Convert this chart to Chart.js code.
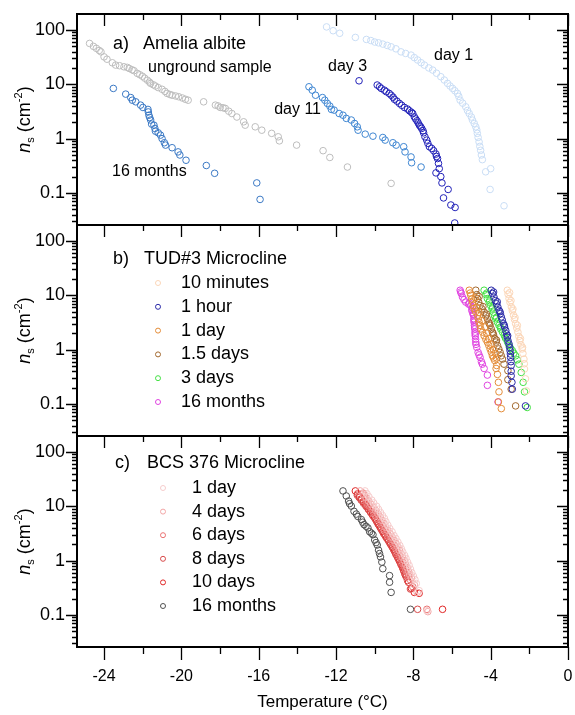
<!DOCTYPE html>
<html><head><meta charset="utf-8">
<script src="https://cdn.jsdelivr.net/npm/chart.js@4.4.1/dist/chart.umd.min.js"></script>
<style>html,body{margin:0;padding:0;background:#fff}</style>
</head><body>
<canvas id="c" width="575" height="715"></canvas>
<script>
// ---------- tick labels ----------
const xTickValues = [-24, -20, -16, -12, -8, -4, 0];
const xMinorTicks = [-22, -18, -14, -10, -6, -2];
const yTickValues = [0.1, 1, 10, 100];

// ---------- panel a: Amelia albite  [T (°C), ns (cm^-2)] ----------
const ameliaUnground = [[-24.75,56.6],[-24.55,50],[-24.4,46],[-24.25,42],[-24.16,39.6],[-24.0,32],[-23.85,29],[-23.57,24.9],[-23.4,22.6],[-23.2,22],[-22.97,21],[-22.8,20.5],[-22.7,19.6],[-22.55,18.5],[-22.45,17.8],[-22.28,15.9],[-22.15,15],[-22.02,14.1],[-21.9,13],[-21.76,11.9],[-21.65,11],[-21.59,10.4],[-21.45,9.8],[-21.34,9.3],[-21.2,8.7],[-21.0,8.1],[-20.85,7.4],[-20.74,6.8],[-20.6,6.5],[-20.48,6.3],[-20.3,6.1],[-20.14,5.9],[-19.95,5.6],[-19.79,5.3],[-19.65,5.1],[-18.85,4.76],[-18.24,4.14],[-18.1,4.0],[-17.99,3.75],[-17.85,3.7],[-17.73,3.6],[-17.55,3.2],[-17.39,2.9],[-17.13,2.5],[-16.78,2.04],[-16.7,1.77],[-16.18,1.65],[-15.84,1.43],[-15.33,1.25],[-14.99,1.08],[-14.93,0.91],[-14.04,0.76],[-12.67,0.6],[-12.32,0.45],[-11.41,0.30],[-9.15,0.15]];
const ameliaMonths16 = [[-23.52,8.4],[-22.88,6.6],[-22.62,5.7],[-22.54,5.1],[-22.36,4.76],[-22.11,4.14],[-21.99,3.75],[-21.73,3.45],[-21.71,3.1],[-21.68,2.7],[-21.64,2.45],[-21.59,2.2],[-21.54,1.85],[-21.42,1.77],[-21.37,1.54],[-21.34,1.37],[-21.2,1.28],[-21.08,1.16],[-21.0,1.0],[-20.88,0.84],[-20.82,0.76],[-20.48,0.68],[-20.17,0.57],[-20.08,0.5],[-19.76,0.40],[-18.71,0.32],[-18.28,0.23],[-16.1,0.153],[-15.93,0.076]];
const ameliaDay11 = [[-13.4,9.0],[-13.23,7.8],[-13.06,6.3],[-12.7,5.7],[-12.58,5.1],[-12.45,4.45],[-12.32,3.97],[-12.24,3.45],[-12.1,3.35],[-11.84,2.9],[-11.64,2.7],[-11.47,2.36],[-11.21,2.2],[-11.04,1.9],[-10.9,1.65],[-10.86,1.43],[-10.49,1.21],[-10.09,1.11],[-9.58,1.05],[-9.46,0.94],[-9.06,0.84],[-8.89,0.76],[-8.5,0.71],[-8.43,0.57],[-8.12,0.46],[-8.09,0.36],[-7.6,0.30]];
const ameliaDay3 = [[-10.81,11.6],[-9.87,9.7],[-9.75,9.0],[-9.66,8.4],[-9.5,7.8],[-9.4,7.3],[-9.25,6.8],[-9.15,6.3],[-9.05,5.8],[-8.98,5.3],[-8.85,4.9],[-8.72,4.45],[-8.6,4.1],[-8.46,3.75],[-8.3,3.5],[-8.2,3.25],[-8.1,3.05],[-8.03,2.9],[-7.95,2.52],[-7.88,2.3],[-7.81,2.13],[-7.75,1.95],[-7.69,1.77],[-7.62,1.65],[-7.57,1.54],[-7.5,1.4],[-7.47,1.28],[-7.4,1.08],[-7.31,0.94],[-7.25,0.82],[-7.17,0.71],[-7.05,0.66],[-6.95,0.6],[-6.83,0.52],[-6.8,0.47],[-6.75,0.43],[-6.7,0.35],[-6.66,0.28],[-6.83,0.234],[-6.58,0.2],[-6.52,0.153],[-6.2,0.116],[-6.44,0.081],[-6.06,0.06],[-5.84,0.054],[-5.86,0.028]];
const ameliaDay1 = [[-12.49,114],[-12.15,97],[-11.81,87],[-11.0,73],[-10.43,67],[-10.2,64],[-10.0,60],[-9.8,58],[-9.58,55],[-9.35,52],[-9.15,49],[-8.9,45],[-8.64,39.6],[-8.4,37],[-8.12,34.5],[-7.95,31],[-7.78,28],[-7.6,25],[-7.43,22.6],[-7.2,20],[-7.0,18.3],[-6.8,16],[-6.58,13.8],[-6.4,12],[-6.23,10.4],[-6.1,9.3],[-5.97,8.4],[-5.85,7.6],[-5.72,6.8],[-5.65,6.0],[-5.58,5.1],[-5.45,4.5],[-5.29,3.85],[-5.2,3.3],[-5.11,2.9],[-5.0,2.5],[-4.94,2.19],[-4.85,1.9],[-4.77,1.65],[-4.72,1.45],[-4.69,1.25],[-4.65,1.05],[-4.6,0.87],[-4.56,0.72],[-4.52,0.61],[-4.48,0.5],[-4.43,0.41],[-4.0,0.28],[-4.26,0.245],[-4.03,0.116],[-3.31,0.058]];

// ---------- panel b: TUD#3 Microcline ----------
const tudMin10 = [[-3.14,12.4],[-3.1,10.5],[-3.05,8.7],[-3.0,7.4],[-2.93,6.1],[-2.88,5.2],[-2.82,4.3],[-2.77,3.6],[-2.71,3.0],[-2.65,2.5],[-2.59,2.1],[-2.54,1.75],[-2.49,1.47],[-2.43,1.22],[-2.37,1.03],[-2.33,0.85],[-2.28,0.67],[-2.26,0.55],[-2.25,0.44],[-2.2,0.29],[-2.15,0.174],[-3.02,11.2],[-2.95,8.0],[-2.85,5.6],[-2.74,3.9],[-2.62,2.8],[-2.46,1.6],[-2.35,1.1]];
const tudHour1 = [[-3.97,12.4],[-3.9,10.8],[-3.83,9.3],[-3.76,8.0],[-3.7,7.0],[-3.63,6.1],[-3.57,5.3],[-3.5,4.6],[-3.45,4.0],[-3.4,3.5],[-3.34,3.0],[-3.28,2.6],[-3.22,2.25],[-3.18,1.95],[-3.14,1.69],[-3.1,1.45],[-3.05,1.27],[-3.02,1.1],[-3.0,0.96],[-2.98,0.83],[-2.97,0.72],[-2.95,0.6],[-2.94,0.51],[-2.94,0.4],[-2.94,0.33],[-2.9,0.25],[-2.88,0.187],[-2.2,0.092],[-3.85,11.5],[-3.66,7.6],[-3.52,5.0],[-3.3,2.8],[-3.12,1.8]];
const tudDay1 = [[-5.11,12.4],[-5.06,11],[-5.03,10],[-4.98,8.6],[-4.94,7.5],[-4.9,6.5],[-4.86,5.7],[-4.78,5.0],[-4.68,4.3],[-4.64,3.7],[-4.6,3.2],[-4.55,2.8],[-4.51,2.4],[-4.42,2.1],[-4.34,1.8],[-4.25,1.55],[-4.17,1.37],[-4.1,1.2],[-4.03,1.03],[-3.97,0.9],[-3.91,0.77],[-3.85,0.7],[-3.79,0.63],[-3.69,0.51],[-3.65,0.35],[-3.6,0.25],[-3.57,0.167],[-3.6,0.109],[-3.45,0.082],[-4.8,9.0],[-4.72,6.0],[-4.6,4.8],[-4.45,3.4],[-4.3,2.6],[-4.2,2.0],[-4.1,1.6],[-3.98,1.25],[-3.85,1.0],[-3.75,0.85],[-3.7,0.7],[-3.72,0.45]];
const tudDays15 = [[-4.77,12.4],[-4.72,10.3],[-4.68,8.7],[-4.62,7.5],[-4.55,6.5],[-4.45,5.6],[-4.34,4.9],[-4.25,4.2],[-4.17,3.7],[-4.1,3.2],[-4.03,2.8],[-3.97,2.4],[-3.91,2.1],[-3.85,1.85],[-3.79,1.6],[-3.72,1.38],[-3.65,1.19],[-3.58,1.03],[-3.51,0.89],[-3.45,0.77],[-3.39,0.67],[-3.31,0.54],[-3.11,0.41],[-3.11,0.28],[-2.94,0.187],[-2.71,0.092],[-4.6,9.5],[-4.4,6.2],[-4.22,4.5],[-4.06,3.0],[-3.88,2.0],[-3.7,1.5]];
const tudDays3 = [[-4.34,12.4],[-4.25,10.3],[-4.17,8.7],[-4.08,7.5],[-4.0,6.5],[-3.93,5.6],[-3.86,4.9],[-3.8,4.2],[-3.74,3.7],[-3.65,3.2],[-3.57,2.8],[-3.48,2.4],[-3.39,2.1],[-3.3,1.85],[-3.22,1.6],[-3.13,1.38],[-3.05,1.19],[-2.97,1.06],[-2.88,0.96],[-2.8,0.86],[-2.71,0.77],[-2.62,0.65],[-2.54,0.54],[-2.42,0.38],[-2.32,0.25],[-2.25,0.167],[-2.11,0.086],[-4.2,11.0],[-4.05,8.0],[-3.9,5.9],[-3.7,3.9],[-3.5,2.6],[-3.25,1.7]];
const tudMonths16 = [[-5.58,12.4],[-5.52,10.8],[-5.46,9.3],[-5.38,8.3],[-5.29,7.5],[-5.15,6.9],[-5.03,6.5],[-4.98,5.3],[-4.93,4.8],[-4.89,4.3],[-4.87,3.7],[-4.86,3.2],[-4.84,2.8],[-4.82,2.4],[-4.81,2.1],[-4.8,1.8],[-4.78,1.55],[-4.77,1.37],[-4.72,1.1],[-4.65,0.89],[-4.55,0.72],[-4.43,0.54],[-4.34,0.45],[-4.17,0.34],[-4.17,0.22],[-3.62,0.109],[-5.55,11.5],[-5.1,7.2],[-4.95,5.8],[-4.9,4.5],[-4.86,3.45],[-4.83,2.6],[-4.8,1.95],[-4.76,1.25],[-4.6,0.8],[-4.48,0.6]];

// ---------- panel c: BCS 376 Microcline ----------
const bcsDay1 = [[-10.5,19.2],[-10.4,17],[-10.3,15],[-10.15,13],[-10.05,11.5],[-9.9,10],[-9.8,8.8],[-9.7,7.7],[-9.6,6.8],[-9.5,6.0],[-9.42,5.2],[-9.32,4.5],[-9.22,3.9],[-9.1,3.4],[-9.0,2.9],[-8.9,2.55],[-8.8,2.2],[-8.7,1.9],[-8.62,1.65],[-8.55,1.45],[-8.45,1.25],[-8.38,1.1],[-8.3,0.94],[-8.22,0.82],[-8.15,0.7],[-8.08,0.6],[-8.0,0.52],[-7.92,0.45],[-7.85,0.38],[-7.7,0.28],[-7.3,0.12]];
const bcsDays4 = [[-10.75,19.2],[-10.6,16.5],[-10.45,14.6],[-10.32,12.6],[-10.2,11],[-10.08,9.6],[-9.95,8.4],[-9.83,7.3],[-9.72,6.4],[-9.62,5.5],[-9.52,4.8],[-9.42,4.1],[-9.32,3.6],[-9.2,3.1],[-9.1,2.7],[-9.0,2.35],[-8.9,2.05],[-8.8,1.78],[-8.72,1.55],[-8.63,1.33],[-8.55,1.15],[-8.47,1.0],[-8.4,0.86],[-8.32,0.74],[-8.25,0.64],[-8.18,0.55],[-8.1,0.48],[-7.95,0.36],[-7.8,0.26],[-7.25,0.115]];
const bcsDays6 = [[-10.6,17.5],[-10.55,15.5],[-10.5,13.5],[-10.4,11.8],[-10.3,10.3],[-10.17,9.0],[-10.05,7.8],[-9.93,6.8],[-9.82,5.9],[-9.7,5.1],[-9.6,4.4],[-9.5,3.8],[-9.4,3.3],[-9.28,2.9],[-9.18,2.5],[-9.08,2.2],[-8.98,1.9],[-8.88,1.65],[-8.8,1.42],[-8.7,1.22],[-8.62,1.06],[-8.54,0.92],[-8.46,0.8],[-8.39,0.7],[-8.32,0.6],[-8.25,0.52],[-8.18,0.45],[-8.03,0.33],[-7.3,0.127]];
const bcsDays8 = [[-10.9,16],[-10.8,14.5],[-10.7,13],[-10.58,11.4],[-10.45,10],[-10.32,8.7],[-10.2,7.6],[-10.08,6.6],[-9.95,5.7],[-9.85,4.9],[-9.75,4.3],[-9.65,3.7],[-9.55,3.2],[-9.44,2.8],[-9.32,2.45],[-9.22,2.12],[-9.12,1.85],[-9.02,1.6],[-8.93,1.4],[-8.84,1.2],[-8.75,1.05],[-8.66,0.9],[-8.58,0.78],[-8.51,0.67],[-8.44,0.58],[-8.37,0.5],[-8.3,0.43],[-8.15,0.3],[-7.78,0.127]];
const bcsDays10 = [[-11.0,19.2],[-10.88,17],[-10.78,15],[-10.68,13.4],[-10.58,12],[-10.46,10.5],[-10.35,9.2],[-10.23,8.0],[-10.12,7.0],[-10.0,6.1],[-9.9,5.3],[-9.8,4.6],[-9.7,4.0],[-9.58,3.45],[-9.48,3.0],[-9.38,2.6],[-9.28,2.3],[-9.18,2.0],[-9.08,1.75],[-8.98,1.5],[-8.9,1.3],[-8.8,1.12],[-8.72,0.98],[-8.64,0.85],[-8.56,0.74],[-8.49,0.64],[-8.42,0.55],[-8.25,0.4],[-8.1,0.31],[-7.95,0.26],[-7.7,0.25],[-6.49,0.127]];
const bcsMonths16 = [[-11.64,19.2],[-11.47,15.5],[-11.35,12.5],[-11.3,11.2],[-11.21,10.1],[-11.07,8.1],[-10.95,7.2],[-10.87,6.5],[-10.69,5.7],[-10.62,5.1],[-10.55,4.6],[-10.45,4.3],[-10.35,4.0],[-10.26,3.4],[-10.17,3.2],[-10.09,3.0],[-10.0,2.4],[-9.93,2.15],[-9.87,1.94],[-9.8,1.56],[-9.75,1.35],[-9.7,1.17],[-9.63,0.94],[-9.58,0.71],[-9.23,0.53],[-9.23,0.40],[-9.15,0.26],[-8.15,0.127]];

// ---------- series definitions ----------
const panelA = [
  {label:'unground sample', data:ameliaUnground, color:'#bdbdbd'},
  {label:'16 months', data:ameliaMonths16, color:'#3a78c4'},
  {label:'day 11', data:ameliaDay11, color:'#3f86d2'},
  {label:'day 3', data:ameliaDay3, color:'#2222b8'},
  {label:'day 1', data:ameliaDay1, color:'#c9ddf5'}
];
const panelB = [
  {label:'10 minutes', data:tudMin10, color:'#fbd6b8'},
  {label:'1 hour', data:tudHour1, color:'#2a2aa8'},
  {label:'1 day', data:tudDay1, color:'#e48c38'},
  {label:'1.5 days', data:tudDays15, color:'#a2682e'},
  {label:'3 days', data:tudDays3, color:'#44e044'},
  {label:'16 months', data:tudMonths16, color:'#e044e0'}
];
const panelC = [
  {label:'1 day', data:bcsDay1, color:'#f6cccc'},
  {label:'4 days', data:bcsDays4, color:'#f2a6a6'},
  {label:'6 days', data:bcsDays6, color:'#ea7272'},
  {label:'8 days', data:bcsDays8, color:'#d84a4a'},
  {label:'10 days', data:bcsDays10, color:'#e02626'},
  {label:'16 months', data:bcsMonths16, color:'#505050'}
];

const FONT = "'Liberation Sans', Arial, Helvetica, sans-serif";
function mk(s, axis) {
  return {label: s.label, data: s.data.map(p => ({x: p[0], y: p[1]})), yAxisID: axis,
    borderColor: s.color, backgroundColor: 'rgba(0,0,0,0)', pointRadius: 3.3, pointHoverRadius: 3.3,
    pointBorderWidth: 1, showLine: false};
}
const datasets = [].concat(panelA.map(s => mk(s, 'ya')), panelB.map(s => mk(s, 'yb')), panelC.map(s => mk(s, 'yc')));

function yScale(weight) {
  return {type: 'logarithmic', position: 'left', stack: 'panels', stackWeight: 1, weight: weight,
    min: 0.0257, max: 197,
    afterBuildTicks: s => { s.ticks = yTickValues.map(v => ({value: v})); },
    afterFit: s => { s.width = 77; s.paddingTop = 0; s.paddingBottom = 0; },
    grid: {display: false, drawTicks: false}, border: {display: false},
    ticks: {padding: 12, color: '#000', font: {family: FONT, size: 18}, callback: v => String(v)}
  };
}

function txt(ctx, s, x, y, size, align, style) {
  ctx.font = (style || '') + ' ' + size + 'px ' + FONT;
  ctx.textAlign = align || 'left';
  ctx.textBaseline = 'middle';
  ctx.fillStyle = '#000';
  ctx.fillText(s, x, y);
}
function yTitle(ctx, cx, cy) {
  const parts = [
    {t: 'n', f: 'italic 18px ' + FONT, dy: 0},
    {t: 's', f: '11px ' + FONT, dy: 4},
    {t: ' (cm', f: '18px ' + FONT, dy: 0},
    {t: '-2', f: '11px ' + FONT, dy: -8},
    {t: ')', f: '18px ' + FONT, dy: 0}
  ];
  ctx.save();
  ctx.translate(cx, cy);
  ctx.rotate(-Math.PI / 2);
  let w = 0;
  parts.forEach(p => { ctx.font = p.f; p.w = ctx.measureText(p.t).width; w += p.w; });
  let x = -w / 2;
  ctx.fillStyle = '#000'; ctx.textAlign = 'left'; ctx.textBaseline = 'alphabetic';
  parts.forEach(p => { ctx.font = p.f; ctx.fillText(p.t, x, 6 + p.dy); x += p.w; });
  ctx.restore();
}
function legend(ctx, items, mx, tx, y0, dy) {
  items.forEach((s, i) => {
    const y = y0 + i * dy;
    ctx.beginPath(); ctx.lineWidth = 1; ctx.strokeStyle = s.color;
    ctx.arc(mx, y, 2.5, 0, Math.PI * 2); ctx.stroke();
    txt(ctx, s.label, tx, y, 18);
  });
}

const framePlugin = {
  id: 'frames',
  afterDraw(chart) {
    const ctx = chart.ctx, xs = chart.scales.x, ca = chart.chartArea;
    const L = ca.left, R = ca.right;
    ['ya', 'yb', 'yc'].forEach(id => {
      const s = chart.scales[id], T = s.top, B = s.bottom;
      ctx.save();
      ctx.strokeStyle = '#000'; ctx.lineWidth = 1.3;
      ctx.beginPath();
      for (let e = -2; e <= 2; e++) for (let m = 1; m <= 9; m++) {
        const v = m * Math.pow(10, e);
        if (v < s.min || v > s.max) continue;
        const y = Math.round(s.getPixelForValue(v)) + 0.5;
        const len = m === 1 ? 11 : 5;
        ctx.moveTo(L - len, y); ctx.lineTo(L, y);
        ctx.moveTo(R, y); ctx.lineTo(R - len, y);
      }
      const xt = xTickValues.map(v => [v, 12]).concat(xMinorTicks.map(v => [v, 6]));
      xt.forEach(([v, len]) => {
        const x = Math.round(xs.getPixelForValue(v)) + 0.5;
        ctx.moveTo(x, T); ctx.lineTo(x, T + len);
        if (id === 'yc') { ctx.moveTo(x, B); ctx.lineTo(x, B + len + 1); }
      });
      ctx.stroke();
      ctx.lineWidth = 2;
      ctx.strokeRect(L, T, R - L, B - T);
      yTitle(ctx, 24, (T + B) / 2);
      ctx.restore();
    });
    const a = chart.scales.ya.top, b = chart.scales.yb.top, c = chart.scales.yc.top;
    // panel a annotations
    txt(ctx, 'a)', L + 36, a + 30, 18);
    txt(ctx, 'Amelia albite', L + 66, a + 30, 18);
    txt(ctx, 'unground sample', L + 71, a + 54, 16);
    txt(ctx, '16 months', L + 35, a + 158, 16);
    txt(ctx, 'day 11', L + 244, a + 96, 16, 'right');
    txt(ctx, 'day 3', L + 251, a + 53, 16);
    txt(ctx, 'day 1', L + 357, a + 42, 16);
    // panel b legend
    txt(ctx, 'b)', L + 36, b + 34, 18);
    txt(ctx, 'TUD#3 Microcline', L + 67, b + 34, 18);
    legend(ctx, panelB, L + 81, L + 104, b + 58, 23.8);
    // panel c legend
    txt(ctx, 'c)', L + 38, c + 27, 18);
    txt(ctx, 'BCS 376 Microcline', L + 70, c + 27, 18);
    legend(ctx, panelC, L + 86, L + 115, c + 52, 23.6);
  }
};

new Chart(document.getElementById('c'), {
  type: 'scatter',
  data: {datasets},
  options: {
    responsive: false, animation: false, devicePixelRatio: 1,
    layout: {padding: {left: 0, top: 14, right: 7, bottom: 0}},
    plugins: {legend: {display: false}, tooltip: {enabled: false}},
    scales: {
      x: {type: 'linear', position: 'bottom', min: -25.4, max: 0,
        afterBuildTicks: s => { s.ticks = xTickValues.map(v => ({value: v})); },
        afterFit: s => { s.height = 68; s.paddingLeft = 0; s.paddingRight = 0; },
        grid: {display: false, drawTicks: false}, border: {display: false},
        ticks: {padding: 20, color: '#000', font: {family: FONT, size: 16}, maxRotation: 0, callback: v => String(v)},
        title: {display: true, text: 'Temperature (°C)', color: '#000', font: {family: FONT, size: 17}, padding: {top: 0, bottom: 2}}
      },
      ya: yScale(3),
      yb: yScale(2),
      yc: yScale(1)
    }
  },
  plugins: [framePlugin]
});
</script>
</body></html>
